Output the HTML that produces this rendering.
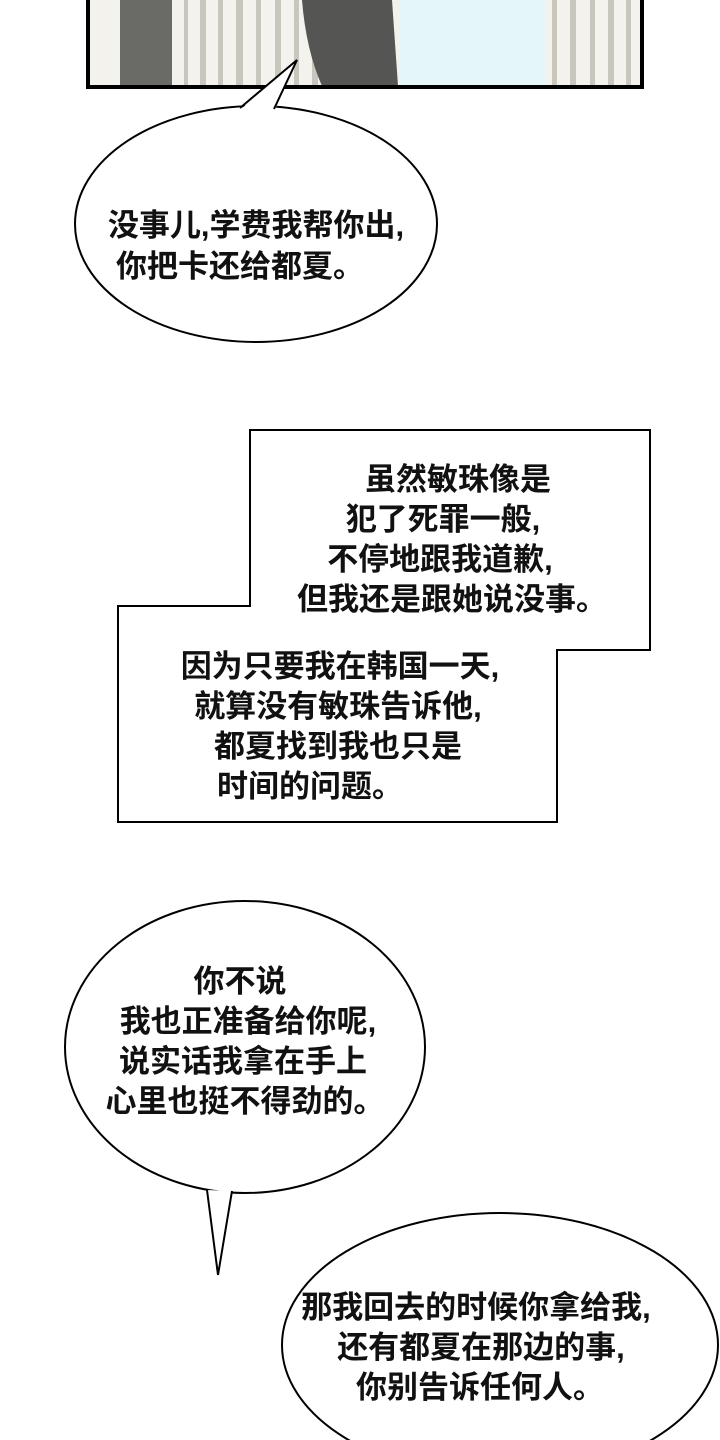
<!DOCTYPE html>
<html><head><meta charset="utf-8"><style>
body{margin:0;width:720px;height:1440px;background:#fff;overflow:hidden}
svg{display:block}
text{font-family:"Liberation Sans","Noto Sans CJK SC",sans-serif;font-size:31px;font-weight:bold;fill:#111;text-anchor:middle}
</style></head><body>
<svg width="720" height="1440" viewBox="0 0 720 1440">
<rect x="88" y="0" width="554" height="88" fill="#f4f2ec"/>
<rect x="120" y="0" width="52" height="86" fill="#6a6a66"/>
<g fill="#c9c6bd">
<rect x="184" y="0" width="4" height="86"/><rect x="200" y="0" width="6" height="86"/><rect x="218" y="0" width="5" height="86"/><rect x="236" y="0" width="7" height="86"/><rect x="256" y="0" width="5" height="86"/><rect x="275" y="0" width="6" height="86"/><rect x="294" y="0" width="5" height="86"/><rect x="312" y="0" width="6" height="86"/>
<rect x="552" y="0" width="5" height="86"/><rect x="570" y="0" width="6" height="86"/><rect x="590" y="0" width="5" height="86"/><rect x="608" y="0" width="6" height="86"/><rect x="626" y="0" width="5" height="86"/>
</g>
<rect x="400" y="0" width="145" height="86" fill="#e4f6f8"/>
<path d="M302 0 L392 0 L398 86 L322 86 Q306 50 302 0Z" fill="#555553"/>
<rect x="88" y="-5" width="554" height="92" fill="none" stroke="#000" stroke-width="4"/>
<ellipse cx="256" cy="224" rx="181" ry="118" fill="#fff" stroke="#000" stroke-width="2"/>
<path d="M240 110 L297 60 L274 112 Z" fill="#fff" stroke="none"/>
<path d="M240 108 L297 60 L274 109" fill="none" stroke="#000" stroke-width="2"/>
<text x="256" y="236">没事儿,学费我帮你出,</text>
<text x="240" y="277">你把卡还给都夏。</text>
<polygon points="250,430 650,430 650,650 557,650 557,822 118,822 118,606 250,606" fill="#fff" stroke="#000" stroke-width="2"/>
<text x="458" y="490">虽然敏珠像是</text>
<text x="443" y="530">犯了死罪一般,</text>
<text x="440" y="570">不停地跟我道歉,</text>
<text x="452" y="610">但我还是跟她说没事。</text>
<text x="340" y="677">因为只要我在韩国一天,</text>
<text x="338" y="717">就算没有敏珠告诉他,</text>
<text x="338" y="757">都夏找到我也只是</text>
<text x="310" y="797">时间的问题。</text>
<ellipse cx="245" cy="1047" rx="180" ry="146" fill="#fff" stroke="#000" stroke-width="2"/>
<path d="M207 1190 L218 1275 L232 1191" fill="#fff" stroke="#000" stroke-width="2"/>
<text x="240" y="992">你不说</text>
<text x="248" y="1032">我也正准备给你呢,</text>
<text x="243" y="1072">说实话我拿在手上</text>
<text x="245" y="1112">心里也挺不得劲的。</text>
<ellipse cx="500" cy="1345" rx="218" ry="132" fill="#fff" stroke="#000" stroke-width="2"/>
<text x="476" y="1318">那我回去的时候你拿给我,</text>
<text x="481" y="1358">还有都夏在那边的事,</text>
<text x="480" y="1398">你别告诉任何人。</text>
</svg>
</body></html>
